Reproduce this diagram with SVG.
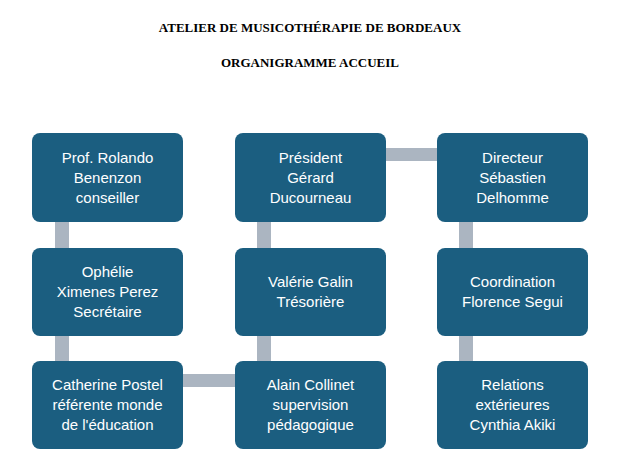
<svg xmlns="http://www.w3.org/2000/svg" width="620" height="459" viewBox="0 0 620 459">
<style>
.t{font-family:"Liberation Serif",serif;font-weight:bold;font-size:13px;fill:#000;text-anchor:middle}
.n rect{fill:#1b5e80}
.n text{font-family:"Liberation Sans",Arial,sans-serif;font-size:15px;fill:#fff;text-anchor:middle}
.c rect{fill:#abb5c1}
</style>
<rect width="620" height="459" fill="#fff"/>
<text class="t" x="310" y="32">ATELIER DE MUSICOTHÉRAPIE DE BORDEAUX</text>
<text class="t" x="310" y="67">ORGANIGRAMME ACCUEIL</text>
<g class="c" id="connectors">
<rect x="55" y="222" width="14" height="26"/>
<rect x="55" y="336" width="14" height="25"/>
<rect x="257" y="222" width="14" height="26"/>
<rect x="257" y="336" width="14" height="25"/>
<rect x="459" y="222" width="14" height="26"/>
<rect x="459" y="336" width="14" height="25"/>
<rect x="386" y="148" width="51" height="13"/>
<rect x="183" y="374" width="52" height="13"/>
</g>
<g class="n" id="n1"><rect x="32" y="133" width="151" height="89" rx="8"/><text x="107.5" y="163">Prof. Rolando</text><text x="107.5" y="183">Benenzon</text><text x="107.5" y="203">conseiller</text></g>
<g class="n" id="n2"><rect x="235" y="133" width="151" height="89" rx="8"/><text x="310.5" y="163">Président</text><text x="310.5" y="183">Gérard</text><text x="310.5" y="203">Ducourneau</text></g>
<g class="n" id="n3"><rect x="437" y="133" width="151" height="89" rx="8"/><text x="512.5" y="163">Directeur</text><text x="512.5" y="183">Sébastien</text><text x="512.5" y="203">Delhomme</text></g>
<g class="n" id="n4"><rect x="32" y="248" width="151" height="88" rx="8"/><text x="107.5" y="277">Ophélie</text><text x="107.5" y="297">Ximenes Perez</text><text x="107.5" y="317">Secrétaire</text></g>
<g class="n" id="n5"><rect x="235" y="248" width="151" height="88" rx="8"/><text x="310.5" y="287">Valérie Galin</text><text x="310.5" y="307">Trésorière</text></g>
<g class="n" id="n6"><rect x="437" y="248" width="151" height="88" rx="8"/><text x="512.5" y="287">Coordination</text><text x="512.5" y="307">Florence Segui</text></g>
<g class="n" id="n7"><rect x="32" y="361" width="151" height="88" rx="8"/><text x="107.5" y="390">Catherine Postel</text><text x="107.5" y="410">référente monde</text><text x="107.5" y="430">de l'éducation</text></g>
<g class="n" id="n8"><rect x="235" y="361" width="151" height="88" rx="8"/><text x="310.5" y="390">Alain Collinet</text><text x="310.5" y="410">supervision</text><text x="310.5" y="430">pédagogique</text></g>
<g class="n" id="n9"><rect x="437" y="361" width="151" height="88" rx="8"/><text x="512.5" y="390">Relations</text><text x="512.5" y="410">extérieures</text><text x="512.5" y="430">Cynthia Akiki</text></g>
</svg>
